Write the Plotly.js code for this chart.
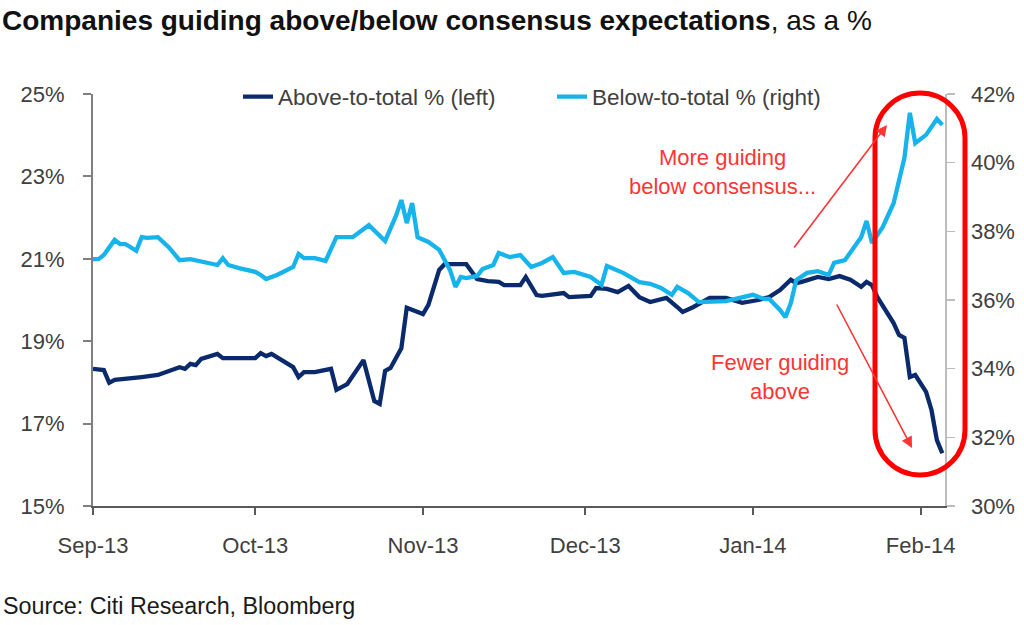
<!DOCTYPE html>
<html>
<head>
<meta charset="utf-8">
<script src="https://cdn.plot.ly/plotly-3.0.1.min.js"></script>
<style>html,body{margin:0;padding:0;background:#fff;}#chart{width:1024px;height:625px;}</style>
</head>
<body>
<div id="chart"></div>
<script>
// ---- Data ----
const monthTicks = ['2013-09-01','2013-10-01','2013-11-01','2013-12-01','2014-01-01','2014-02-01'];
const monthLabels = ['Sep-13','Oct-13','Nov-13','Dec-13','Jan-14','Feb-14'];

const aboveDates = ['2013-09-01','2013-09-03','2013-09-04','2013-09-05','2013-09-10','2013-09-13','2013-09-17','2013-09-18','2013-09-19','2013-09-20','2013-09-21','2013-09-24','2013-09-25','2013-10-01','2013-10-02','2013-10-03','2013-10-04','2013-10-07','2013-10-08','2013-10-09','2013-10-10','2013-10-12','2013-10-15','2013-10-16','2013-10-18','2013-10-21','2013-10-23','2013-10-24','2013-10-25','2013-10-26','2013-10-28','2013-10-29','2013-10-31','2013-11-01','2013-11-02','2013-11-04','2013-11-05','2013-11-09','2013-11-11','2013-11-13','2013-11-15','2013-11-16','2013-11-19','2013-11-20','2013-11-22','2013-11-23','2013-11-27','2013-11-28','2013-12-02','2013-12-03','2013-12-05','2013-12-07','2013-12-09','2013-12-11','2013-12-13','2013-12-16','2013-12-18','2013-12-19','2013-12-21','2013-12-24','2013-12-27','2013-12-30','2014-01-02','2014-01-04','2014-01-06','2014-01-08','2014-01-09','2014-01-10','2014-01-13','2014-01-15','2014-01-17','2014-01-19','2014-01-21','2014-01-22','2014-01-23','2014-01-24','2014-01-27','2014-01-28','2014-01-29','2014-01-30','2014-01-31','2014-02-02','2014-02-03','2014-02-04','2014-02-05'];
const aboveValues = [18.33,18.30,17.99,18.06,18.13,18.18,18.37,18.33,18.45,18.42,18.57,18.69,18.59,18.59,18.71,18.64,18.69,18.47,18.37,18.13,18.25,18.25,18.33,17.82,17.96,18.54,17.55,17.48,18.28,18.35,18.83,19.81,19.71,19.66,19.88,20.73,20.87,20.87,20.51,20.46,20.44,20.36,20.36,20.56,20.12,20.10,20.17,20.07,20.10,20.29,20.27,20.19,20.34,20.07,19.95,20.05,19.83,19.71,19.83,20.05,20.05,19.93,20.00,20.07,20.24,20.49,20.41,20.44,20.56,20.51,20.58,20.49,20.32,20.44,20.36,20.07,19.44,19.15,19.08,18.13,18.18,17.77,17.33,16.60,16.28];

const belowDates = ['2013-09-01','2013-09-02','2013-09-03','2013-09-05','2013-09-06','2013-09-07','2013-09-09','2013-09-10','2013-09-11','2013-09-13','2013-09-15','2013-09-17','2013-09-19','2013-09-24','2013-09-25','2013-09-26','2013-09-28','2013-10-01','2013-10-02','2013-10-03','2013-10-05','2013-10-08','2013-10-09','2013-10-10','2013-10-12','2013-10-14','2013-10-16','2013-10-19','2013-10-22','2013-10-25','2013-10-27','2013-10-28','2013-10-29','2013-10-30','2013-10-31','2013-11-02','2013-11-04','2013-11-06','2013-11-07','2013-11-08','2013-11-09','2013-11-11','2013-11-12','2013-11-14','2013-11-15','2013-11-17','2013-11-19','2013-11-21','2013-11-23','2013-11-25','2013-11-27','2013-11-29','2013-12-02','2013-12-04','2013-12-05','2013-12-08','2013-12-11','2013-12-13','2013-12-15','2013-12-17','2013-12-18','2013-12-20','2013-12-22','2013-12-27','2014-01-01','2014-01-03','2014-01-04','2014-01-06','2014-01-07','2014-01-08','2014-01-09','2014-01-11','2014-01-13','2014-01-15','2014-01-16','2014-01-18','2014-01-21','2014-01-22','2014-01-23','2014-01-25','2014-01-27','2014-01-28','2014-01-29','2014-01-30','2014-01-31','2014-02-02','2014-02-04','2014-02-05'];
const belowValues = [37.19,37.19,37.31,37.75,37.63,37.63,37.43,37.83,37.81,37.83,37.54,37.16,37.19,37.02,37.22,37.02,36.93,36.82,36.73,36.61,36.73,36.96,37.34,37.22,37.22,37.14,37.83,37.83,38.18,37.72,38.45,38.91,38.24,38.82,37.83,37.69,37.46,36.87,36.38,36.67,36.64,36.70,36.90,37.02,37.37,37.25,37.31,36.96,37.08,37.25,36.79,36.82,36.67,36.44,36.99,36.79,36.52,36.47,36.35,36.15,36.38,36.20,35.94,35.97,36.15,36.03,36.03,35.71,35.50,35.91,36.58,36.79,36.84,36.73,37.08,37.16,37.83,38.30,37.66,38.13,38.82,39.50,40.14,41.45,40.57,40.81,41.27,41.10];

const leftTicks = [15,17,19,21,23,25];
const leftLabels = ['15%','17%','19%','21%','23%','25%'];
const rightTicks = [30,32,34,36,38,40,42];
const rightLabels = ['30%','32%','34%','36%','38%','40%','42%'];

// ---- Layout helpers (pixel -> paper) ----
const L = 93, R = 79, T = 94, B = 119, W = 1024, H = 625;
const PW = W - L - R, PH = H - T - B;
const px = x => (x - L) / PW;
const py = y => (H - B - y) / PH;

const tickFont = {family: 'Liberation Sans, Arial, sans-serif', size: 22, color: '#404040'};
const red = '#ff3535';

const traces = [
  {x: aboveDates, y: aboveValues, type: 'scatter', mode: 'lines', name: 'Above-to-total % (left)',
   line: {color: '#0b2a6b', width: 4.3}, yaxis: 'y', legend: 'legend'},
  {x: belowDates, y: belowValues, type: 'scatter', mode: 'lines', name: 'Below-to-total % (right)',
   line: {color: '#16b4ea', width: 4.3}, yaxis: 'y2', legend: 'legend2'}
];

// Rounded (stadium) outline
function stadium(x0p, x1p, ytp, ybp) {
  const k = 0.5523;
  const r = (x1p - x0p) / 2;
  const xm = (x0p + x1p) / 2;
  const X0 = px(x0p), X1 = px(x1p), XM = px(xm);
  const rx = r / PW, ry = r / PH;
  const YT = py(ytp), YB = py(ybp);
  const f = v => v.toFixed(5);
  return `M${f(X0)},${f(YB + ry)} L${f(X0)},${f(YT - ry)} ` +
    `C${f(X0)},${f(YT - ry + k * ry)} ${f(XM - k * rx)},${f(YT)} ${f(XM)},${f(YT)} ` +
    `C${f(XM + k * rx)},${f(YT)} ${f(X1)},${f(YT - ry + k * ry)} ${f(X1)},${f(YT - ry)} ` +
    `L${f(X1)},${f(YB + ry)} ` +
    `C${f(X1)},${f(YB + ry - k * ry)} ${f(XM + k * rx)},${f(YB)} ${f(XM)},${f(YB)} ` +
    `C${f(XM - k * rx)},${f(YB)} ${f(X0)},${f(YB + ry - k * ry)} ${f(X0)},${f(YB + ry)} Z`;
}

const layout = {
  width: W, height: H,
  margin: {l: L, r: R, t: T, b: B, pad: 0},
  paper_bgcolor: '#ffffff', plot_bgcolor: '#ffffff',
  font: {family: 'Liberation Sans, Arial, sans-serif', color: '#404040'},
  title: {
    text: '<b>Companies guiding above/below consensus expectations</b>, as a %',
    font: {family: 'Liberation Sans, Arial, sans-serif', size: 28, color: '#111111'},
    xref: 'container', x: 0.002, xanchor: 'left',
    yref: 'container', y: 1 - 20 / H, yanchor: 'middle', pad: {l: 0, t: 0}
  },
  showlegend: true,
  legend: {orientation: 'h', x: px(238), y: py(97), xanchor: 'left', yanchor: 'middle',
           bgcolor: 'rgba(0,0,0,0)', font: {size: 22.5, color: '#404040'}},
  legend2: {orientation: 'h', x: px(552), y: py(97), xanchor: 'left', yanchor: 'middle',
            bgcolor: 'rgba(0,0,0,0)', font: {size: 22.5, color: '#404040'}},
  xaxis: {
    type: 'date', range: ['2013-09-01', '2014-02-05 12:00'],
    tickmode: 'array', tickvals: monthTicks, ticktext: monthLabels,
    showline: true, linecolor: '#595959', linewidth: 2,
    ticks: 'outside', ticklen: 7, tickwidth: 2, tickcolor: '#595959',
    showgrid: false, zeroline: false, tickfont: tickFont, ticklabelstandoff: 12,
    fixedrange: true
  },
  yaxis: {
    range: [15, 25], tickmode: 'array', tickvals: leftTicks, ticktext: leftLabels,
    showline: true, linecolor: '#808080', linewidth: 2,
    ticks: 'outside', ticklen: 8, tickwidth: 2, tickcolor: '#808080',
    showgrid: false, zeroline: false, tickfont: tickFont, ticklabelstandoff: 14,
    fixedrange: true
  },
  yaxis2: {
    range: [30, 42], tickmode: 'array', tickvals: rightTicks, ticktext: rightLabels,
    overlaying: 'y', side: 'right', anchor: 'x',
    showline: true, linecolor: '#bdbdbd', linewidth: 1.5,
    ticks: 'outside', ticklen: 8, tickwidth: 1.5, tickcolor: '#bdbdbd',
    showgrid: false, zeroline: false, tickfont: tickFont, ticklabelstandoff: 12,
    fixedrange: true
  },
  shapes: [
    {type: 'path', xref: 'paper', yref: 'paper', path: stadium(875, 965, 93, 475),
     line: {color: '#ff0000', width: 5}, fillcolor: 'rgba(0,0,0,0)', layer: 'above'}
  ],
  annotations: [
    {xref: 'paper', yref: 'paper', x: px(722), y: py(172), xanchor: 'center', yanchor: 'middle',
     text: 'More guiding<br>below consensus...', showarrow: false, align: 'center',
     font: {size: 22, color: red}},
    {xref: 'paper', yref: 'paper', x: px(780), y: py(377), xanchor: 'center', yanchor: 'middle',
     text: 'Fewer guiding<br>above', showarrow: false, align: 'center',
     font: {size: 22, color: red}},
    {xref: 'paper', yref: 'paper', x: px(887), y: py(125), ax: -94, ay: 124, text: '',
     showarrow: true, arrowhead: 2, arrowsize: 1.4, arrowwidth: 1.6, arrowcolor: red, standoff: 0},
    {xref: 'paper', yref: 'paper', x: px(912), y: py(448), ax: -76, ay: -145, text: '',
     showarrow: true, arrowhead: 2, arrowsize: 1.4, arrowwidth: 1.6, arrowcolor: red, standoff: 0},
    {xref: 'paper', yref: 'paper', x: px(1), y: py(606), xanchor: 'left', yanchor: 'middle',
     text: 'Source: Citi Research, Bloomberg', showarrow: false,
     font: {size: 23.3, color: '#1a1a1a'}}
  ]
};

Plotly.newPlot('chart', traces, layout, {displayModeBar: false, staticPlot: true});
</script>
</body>
</html>
